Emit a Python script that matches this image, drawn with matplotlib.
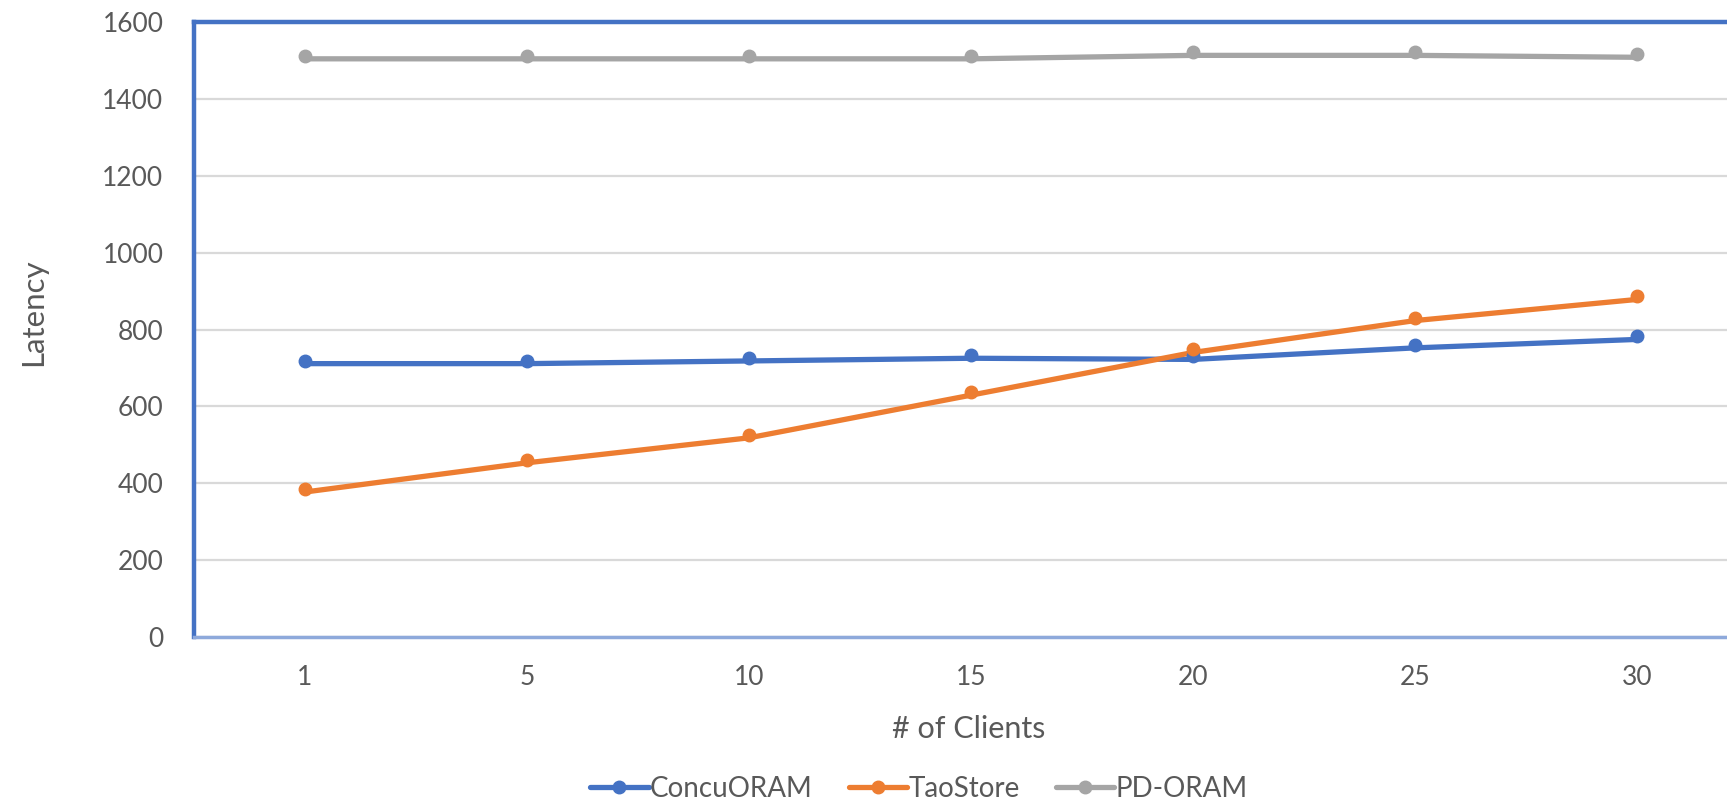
import matplotlib
matplotlib.use('Agg')
import matplotlib.pyplot as plt
from matplotlib.lines import Line2D
from matplotlib.transforms import offset_copy

clients = ['1', '5', '10', '15', '20', '25', '30']
concu = [719, 719, 726, 733, 730, 760, 782]
tao = [385, 461, 526, 637, 748, 831, 886]
pd_oram = [1512, 1512, 1512, 1512, 1521, 1521, 1516]

series_names = ['ConcuORAM', 'TaoStore', 'PD-ORAM']
colors = ['#4472C4', '#ED7D31', '#A5A5A5']

plt.rcParams['font.family'] = ['Lato', 'DejaVu Sans']
text_col = '#595959'

fig = plt.figure(figsize=(17.27, 8.02), dpi=100)
ax = fig.add_axes([194 / 1727, 1 - 637 / 802, 1554 / 1727, 615 / 802])

x = list(range(len(clients)))
# Excel draws the line a touch below the markers
line_trans = offset_copy(ax.transData, fig=fig, x=0, y=-3, units='dots')
for vals, c in zip([concu, tao, pd_oram], colors):
    ax.plot(x, vals, color=c, lw=3.8, solid_capstyle='round', transform=line_trans, zorder=3)
    ax.plot(x, vals, 'o', color=c, ms=9, zorder=4)

ax.set_xlim(-0.5, 6.5)
ax.set_ylim(0, 1600)
ax.set_yticks(range(0, 1601, 200))
ax.set_xticks(x)
ax.set_xticklabels(clients)
ax.grid(axis='y', color='#D9D9D9', lw=1.6)
ax.set_axisbelow(True)
ax.tick_params(length=0, labelsize=19, labelcolor=text_col)
ax.tick_params(axis='y', pad=22)
ax.tick_params(axis='x', pad=20)

for s in ['left', 'top']:
    ax.spines[s].set_color('#4472C4')
    ax.spines[s].set_linewidth(3.2)
ax.spines['right'].set_visible(False)
ax.spines['bottom'].set_color('#8EA9DB')
ax.spines['bottom'].set_linewidth(2.5)

fig.text(33 / 1727, 1 - 312 / 802, 'Latency', rotation=90, ha='center', va='center',
         fontsize=22.5, color=text_col)
fig.text(969 / 1727, 1 - 729 / 802, '# of Clients', ha='center', va='center',
         fontsize=22, color=text_col)

handles = [Line2D([0], [0], color=c, lw=3.8, marker='o', ms=9, solid_capstyle='round')
           for c in colors]
fig.legend(handles, series_names, loc='center', bbox_to_anchor=(919 / 1727, 1 - 789 / 802),
           ncol=3, frameon=False, fontsize=20, labelcolor=text_col, handlelength=2.1,
           handletextpad=0.05, columnspacing=1.3, numpoints=1)

fig.savefig('out.png', dpi=100)
